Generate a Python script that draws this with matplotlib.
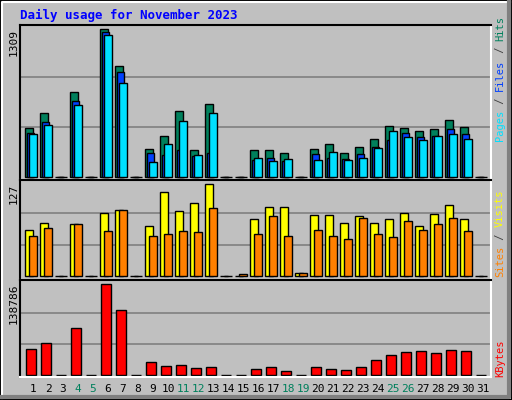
import matplotlib
matplotlib.use("Agg")
import matplotlib.pyplot as plt
import numpy as np

days = list(range(1, 32))
hits  = [429,563,0,749,0,1309,980,0,243,358,580,234,643,0,0,234,234,207,0,243,287,207,261,332,447,429,403,420,500,438,0]
files = [385,483,0,669,0,1282,927,0,207,190,234,187,207,0,0,145,163,136,0,198,163,154,198,261,323,385,349,358,420,376,0]
pages = [376,456,0,634,0,1256,829,0,127,287,492,190,563,0,0,163,136,154,0,145,216,145,163,252,403,349,323,358,376,332,0]
visits = [63.5,73,0,72,0,88,91,0,69,117,90,101,127,0,0,79,95,95,4,84,84,73,83,73,79,87,70,86,99,79,0]
sites  = [55,66,0,72,0,62,91,0,55,58,62,61,94,0,3,59,83,55,4,63.5,55,51,80,59,54,77,63.5,72,80,62,0]
kbytes = [39650,48800,0,71680,0,138786,99130,0,19830,13730,15250,10680,12200,0,0,9150,12200,6100,0,12200,9150,7630,12200,22880,30500,35080,36600,33550,38130,36600,0]
weekends = [4,5,11,12,18,19,25,26]

W, H = 512, 400
fig = plt.figure(figsize=(5.12, 4.0), dpi=100, facecolor="#C0C0C0")
mono = "DejaVu Sans Mono"

def px_axes(top, bottom):
    return fig.add_axes([20/W, 1-bottom/H, 471/W, (bottom-top)/H])

x = np.array(days, dtype=float)
x0 = 0.147
def setup(ax, top, bottom, base, maxpx, maxval):
    ax.set_facecolor("#C0C0C0")
    scale = maxval / (base - maxpx)
    ax.set_ylim(-(bottom-base)*scale, (base-top)*scale)
    ax.set_xlim(x0, x0 + 471/15)
    h = (base-top)*scale
    for f in (1/3, 2/3):
        ax.axhline(h*f*0.99, color="#808080", lw=1.2, zorder=0)
    ax.set_xticks([]); ax.set_yticks([])
    for s in ("left", "top"):
        ax.spines[s].set_color("black")
    for s in ("right", "bottom"):
        ax.spines[s].set_color("white")
    for s in ax.spines.values():
        s.set_linewidth(1.5)

ek = dict(edgecolor="black", linewidth=1, align="edge")
ax1 = px_axes(25, 180)
setup(ax1, 25, 180, 176.7, 29.3, 1309)
ax1.bar(x-0.5, hits, width=0.49, color="#00805C", **ek)
ax1.bar(x-0.37, files, width=0.47, color="#0040FF", **ek)
ax1.bar(x-0.23, pages, width=0.49, color="#00E0FF", **ek)

ax2 = px_axes(180.3, 280.3)
setup(ax2, 180.3, 280.3, 276.3, 184.3, 127)
ax2.bar(x-0.5, visits, width=0.53, color="#FFFF00", **ek)
ax2.bar(x-0.23, sites, width=0.49, color="#FF8000", **ek)

ax3 = px_axes(280.3, 377.3)
setup(ax3, 280.3, 377.3, 375.3, 284.3, 138786)
ax3.bar(x-0.43, kbytes, width=0.67, color="#FF0000", **ek)

for d in days:
    xp = 25.3 + (d-1)*15 + 7.7
    fig.text(xp/W, 1-389/H, str(d), ha="center", va="center", fontsize=8,
             family=mono, color="#00805C" if d in weekends else "black")

fig.text(20/W, 1-15/H, "Daily usage for November 2023", fontsize=9, family=mono,
         weight="bold", color="#0000FF", va="center")
fig.text(14/W, 1-29/H, "1309", rotation=90, fontsize=8, family=mono, ha="center", va="top")
fig.text(14/W, 1-184/H, "127", rotation=90, fontsize=8, family=mono, ha="center", va="top")
fig.text(14/W, 1-284/H, "138786", rotation=90, fontsize=8, family=mono, ha="center", va="top")

RFS = 7.5
adv = 0.602 * RFS * 100 / 72
def rlabel(parts, ybot):
    y = ybot
    for txt, col in parts:
        fig.text(500/W, 1-y/H, txt, rotation=90, fontsize=RFS, family=mono,
                 color=col, ha="center", va="bottom")
        y -= len(txt) * adv
rlabel([("Pages", "#00E0FF"), (" / ", "#404040"), ("Files", "#0040FF"), (" / ", "#404040"), ("Hits", "#00805C")], 141)
rlabel([("Sites", "#FF8000"), (" / ", "#404040"), ("Visits", "#FFFF00")], 277)
rlabel([("KBytes", "#FF0000")], 377)

fig.add_artist(plt.Rectangle((0.5/W, 0.5/H), 1-1/W, 1-1/H, transform=fig.transFigure,
                             fill=False, edgecolor="black", lw=1.5))
fig.add_artist(plt.Line2D([2/W, 2/W, 1-2/W], [2/H, 1-2/H, 1-2/H], transform=fig.transFigure, color="white", lw=1.5))
fig.add_artist(plt.Line2D([2/W, 1-3/W, 1-3/W], [3/H, 3/H, 1-2/H], transform=fig.transFigure, color="#808080", lw=3))

fig.savefig("out.png", dpi=100, facecolor=fig.get_facecolor())
